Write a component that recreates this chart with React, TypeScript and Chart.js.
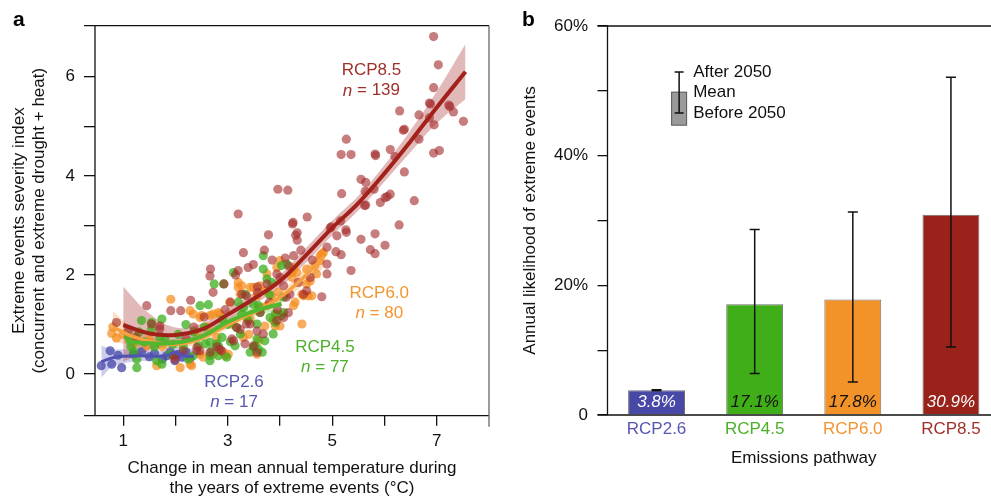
import React, { useEffect, useRef } from "react";
import { Chart, registerables } from "chart.js";

Chart.register(...registerables);

const FONT = '"Liberation Sans", Arial, Helvetica, sans-serif';

// ---------- Panel a: scatter data (temperature change °C, severity index) ----------
const rcp26Points: [number, number][] = [
  [0.58, 0.17], [0.75, 0.47], [0.78, 0.2], [0.9, 0.38], [0.97, 0.13], [1.2, 0.4], [1.35, 0.45],
  [1.5, 0.35], [1.6, 0.42], [1.75, 0.3], [1.83, 0.37], [1.9, 0.45], [1.99, 0.27], [2.05, 0.4],
  [2.12, 0.34], [2.2, 0.45], [2.28, 0.32],
];

const rcp45Points: [number, number][] = [
  [1.1, 0.75], [1.15, 0.55], [1.26, 0.13], [1.26, 0.3], [1.35, 1.08], [1.4, 0.65], [1.54, 1.04],
  [1.54, 0.91], [1.6, 0.55], [1.64, 0.27], [1.74, 0.2], [1.74, 1.11], [1.8, 0.7], [1.95, 0.6],
  [2.05, 0.8], [2.15, 0.55], [2.25, 0.3], [2.34, 0.37], [2.44, 0.57], [2.47, 1.38], [2.57, 0.61],
  [2.63, 1.4], [2.66, 0.37], [2.66, 0.27], [2.66, 0.64], [2.69, 0.47], [2.74, 1.82], [2.79, 0.61],
  [2.82, 0.57], [2.82, 0.37], [2.89, 0.74], [2.92, 1.82], [2.98, 0.34], [3.0, 1.0], [3.11, 2.05],
  [3.14, 0.57], [3.17, 0.94], [3.24, 0.81], [3.27, 1.2], [3.3, 1.34], [3.33, 1.61], [3.39, 1.08],
  [3.43, 0.44], [3.49, 0.54], [3.49, 1.41], [3.52, 0.57], [3.56, 1.01], [3.56, 0.71], [3.59, 0.5],
  [3.66, 0.44], [3.59, 1.38], [3.62, 1.24], [3.68, 2.39], [3.68, 2.12], [3.71, 0.67], [3.75, 1.92],
  [3.81, 1.14], [3.84, 1.85], [3.87, 0.81], [3.91, 1.04], [3.91, 1.21], [4.03, 1.18], [4.03, 2.19],
  [4.07, 1.55], [4.07, 1.24], [4.13, 2.22], [2.2, 1.0], [2.35, 0.85], [1.3, 0.85], [1.7, 0.75],
  [2.9, 1.1], [3.05, 0.65], [3.2, 1.45], [2.55, 0.95], [1.9, 0.4], [1.2, 0.45], [3.8, 1.6],
];

const rcp60Points: [number, number][] = [
  [0.78, 0.82], [0.87, 0.73], [0.8, 0.95], [1.2, 0.62], [1.45, 0.57], [1.5, 0.7], [1.64, 0.17],
  [1.91, 1.51], [2.09, 0.13], [2.28, 0.2], [2.31, 0.17], [2.28, 1.28], [2.34, 1.21], [2.47, 1.14],
  [2.5, 1.18], [2.47, 0.4], [2.53, 0.34], [2.66, 1.18], [2.72, 1.21], [2.72, 0.4], [2.79, 0.74],
  [2.82, 0.47], [2.82, 1.24], [2.85, 1.21], [2.92, 0.44], [2.95, 0.37], [3.01, 0.4], [3.04, 1.45],
  [3.2, 1.85], [3.2, 1.75], [3.24, 1.61], [3.27, 1.78], [3.3, 0.74], [3.4, 0.8], [3.36, 1.14],
  [3.43, 1.11], [3.43, 1.75], [3.49, 1.75], [3.56, 0.4], [3.59, 0.67], [3.56, 1.58], [3.62, 1.34],
  [3.62, 1.78], [3.71, 1.68], [3.71, 0.97], [3.75, 1.38], [3.75, 2.02], [3.84, 1.58], [3.87, 1.08],
  [3.91, 0.97], [3.94, 1.21], [3.94, 2.15], [3.97, 1.65], [4.0, 2.29], [4.0, 0.97], [4.23, 1.95],
  [4.23, 2.05], [4.26, 2.15], [4.26, 1.38], [4.29, 1.45], [4.32, 2.05], [4.42, 1.01], [4.42, 1.61],
  [4.45, 1.58], [4.51, 1.82], [4.51, 2.12], [4.54, 1.58], [4.58, 1.88], [4.61, 1.58], [4.67, 2.19],
  [4.7, 2.02], [4.77, 2.29], [4.77, 2.39], [4.8, 2.42], [4.83, 2.45], [2.4, 0.85], [2.6, 0.95],
  [1.0, 0.8], [1.75, 0.55], [3.1, 1.0],
];

const rcp85Points: [number, number][] = [
  [6.94, 6.81], [7.03, 6.24], [6.94, 5.78], [6.86, 5.47], [7.23, 5.43], [7.32, 5.29], [6.86, 5.17],
  [6.66, 5.23], [6.29, 5.31], [6.95, 5.03], [7.51, 5.1], [6.38, 4.94], [6.66, 4.74], [5.27, 4.74],
  [5.17, 4.43], [5.36, 4.43], [5.82, 4.44], [5.83, 4.41], [6.11, 4.53], [6.2, 4.39], [6.94, 4.46],
  [7.05, 4.51], [6.38, 4.08], [5.55, 3.93], [5.64, 3.87], [3.96, 3.73], [4.15, 3.71], [5.18, 3.64],
  [5.63, 3.69], [5.8, 3.73], [6.11, 3.63], [6.01, 3.56], [5.92, 3.46], [6.57, 3.5], [5.64, 3.41],
  [3.2, 3.23], [4.52, 3.17], [4.24, 3.03], [4.25, 3.06], [5.16, 3.09], [4.98, 2.97], [6.28, 3.01],
  [3.78, 2.81], [4.33, 2.85], [4.33, 2.7], [5.26, 2.91], [5.09, 2.79], [5.55, 2.72], [5.82, 2.83],
  [6.01, 2.6], [5.27, 2.86], [5.73, 2.51], [5.82, 2.43], [5.07, 2.47], [5.17, 2.41], [4.9, 2.56],
  [5.36, 2.09], [4.9, 2.02], [4.8, 1.56], [4.9, 2.22], [4.1, 2.34], [4.26, 2.39], [4.17, 2.18],
  [4.45, 1.61], [4.51, 1.68], [3.49, 2.21], [3.39, 2.15], [3.2, 2.09], [2.67, 2.12], [2.66, 1.98],
  [2.72, 1.65], [2.93, 1.82], [3.27, 1.61], [3.57, 1.76], [3.57, 1.65], [3.75, 1.82], [3.94, 2.02],
  [4.0, 1.95], [4.07, 1.78], [4.12, 1.55], [4.19, 1.61], [1.45, 1.38], [0.87, 1.04], [1.91, 1.28],
  [2.1, 1.28], [2.29, 1.49], [1.7, 0.97], [1.7, 0.91], [3.11, 0.67], [3.33, 0.61], [3.49, 0.57],
  [2.85, 0.5], [2.79, 0.55], [2.41, 0.54], [2.41, 0.47], [3.56, 0.87], [3.68, 0.81], [3.36, 1.01],
  [3.17, 0.94], [1.96, 0.37], [1.99, 0.3], [2.15, 0.47], [3.94, 1.08], [4.07, 1.14], [4.16, 1.24],
  [3.36, 1.58], [3.43, 1.01], [3.24, 0.9], [3.08, 0.71], [2.88, 0.47], [2.66, 0.44], [3.56, 0.44],
  [1.54, 1.01], [2.47, 0.47], [2.55, 1.15], [2.95, 1.3], [3.05, 1.45], [3.62, 1.25], [3.8, 1.45],
  [3.85, 2.3], [4.4, 2.5], [4.62, 2.3], [4.3, 2.8], [4.58, 1.95], [4.35, 1.85], [3.95, 1.3],
  [3.7, 2.5], [3.3, 2.45], [2.35, 0.95], [2.2, 0.72], [1.25, 0.75], [1.1, 0.88], [5.62, 3.4],
  [6.05, 3.58], [6.36, 4.92], [6.88, 5.45], [7.25, 5.4], [4.96, 2.95], [3.15, 2.0],
];

// ---------- Panel a: fitted curves and confidence bands ----------
const rcp85FitX = [1.0, 1.5, 2.0, 2.5, 3.0, 3.5, 4.0, 4.5, 5.0, 5.5, 6.0, 6.5, 7.0, 7.55];
const rcp85FitY = [0.99, 0.82, 0.79, 0.9, 1.2, 1.52, 1.88, 2.4, 2.95, 3.45, 4.05, 4.7, 5.38, 6.1];
const rcp85Upper = [1.76, 1.22, 0.94, 1.02, 1.32, 1.64, 2.01, 2.55, 3.1, 3.6, 4.22, 4.92, 5.7, 6.66];
const rcp85Lower = [0.25, 0.47, 0.64, 0.78, 1.08, 1.4, 1.75, 2.25, 2.8, 3.3, 3.88, 4.48, 5.06, 5.55];

const rcp60FitX = [0.8, 1.2, 1.6, 2.0, 2.4, 2.8, 3.2, 3.6, 4.0, 4.4, 4.85];
const rcp60FitY = [0.95, 0.75, 0.64, 0.6, 0.68, 0.88, 1.1, 1.3, 1.55, 1.9, 2.38];
const rcp60Upper = [1.27, 0.92, 0.74, 0.68, 0.76, 0.96, 1.18, 1.39, 1.66, 2.05, 2.6];
const rcp60Lower = [0.65, 0.58, 0.54, 0.52, 0.6, 0.8, 1.02, 1.21, 1.44, 1.75, 2.16];

const rcp45FitX = [1.05, 1.5, 2.0, 2.5, 3.0, 3.5, 4.03];
const rcp45FitY = [0.66, 0.62, 0.63, 0.76, 1.05, 1.27, 1.42];
const rcp45Upper = [0.8, 0.72, 0.71, 0.84, 1.13, 1.36, 1.56];
const rcp45Lower = [0.52, 0.52, 0.55, 0.68, 0.97, 1.18, 1.28];

const rcp26FitX = [0.58, 0.8, 1.0, 1.3, 1.6, 1.85, 2.0, 2.15, 2.35];
const rcp26FitY = [0.25, 0.33, 0.36, 0.37, 0.36, 0.38, 0.44, 0.37, 0.36];
const rcp26Upper = [0.57, 0.5, 0.5, 0.48, 0.46, 0.48, 0.55, 0.5, 0.52];
const rcp26Lower = [-0.07, 0.16, 0.22, 0.26, 0.26, 0.28, 0.32, 0.24, 0.2];

const scenarioCounts = [17, 77, 80, 139];
const tempTicks = [1, 2, 3, 4, 5, 6, 7];
const severityTicks = [0, 1, 2, 3, 4, 5, 6];

// ---------- Panel b data ----------
const scenarios = ["RCP2.6", "RCP4.5", "RCP6.0", "RCP8.5"];
const likelihoodMean = [3.8, 17.1, 17.8, 30.9];
const likelihoodBefore2050 = [3.75, 6.4, 5.1, 10.5];
const likelihoodAfter2050 = [3.9, 28.6, 31.3, 52.1];
const likelihoodTicks = [0, 10, 20, 30, 40, 50, 60];

// ---------- styles ----------
const barColors = ["#4848a7", "#3fae18", "#f4922a", "#99221a"];
const labelColors = ["#5656b3", "#4cb02a", "#f5952f", "#a0302a"];
const barTextColors = ["#ffffff", "#111111", "#111111", "#ffffff"];

const pts = (xs: number[], ys: number[]) => xs.map((x, i) => ({ x, y: ys[i] }));
const pairs = (p: [number, number][]) => p.map(([x, y]) => ({ x, y }));

const tickFont = { family: FONT, size: 17, lineHeight: 1.2 };
const titleFont = { family: FONT, size: 17, lineHeight: 1.18 };

// annotation anchors (data coordinates) for panel a
const annotations = [
  { name: "RCP2.6", n: scenarioCounts[0], x: 3.12, y: -0.17, color: "#5656b3" },
  { name: "RCP4.5", n: scenarioCounts[1], x: 4.86, y: 0.55, color: "#4cb02a" },
  { name: "RCP6.0", n: scenarioCounts[2], x: 5.9, y: 1.63, color: "#f5952f" },
  { name: "RCP8.5", n: scenarioCounts[3], x: 5.75, y: 6.12, color: "#a0302a" },
];

const panelAPlugin = {
  id: "panelA",
  afterDraw(chart: any) {
    const { ctx, chartArea, scales } = chart;
    const { left, right, top, bottom } = chartArea;
    const xs = scales.x;
    const ys = scales.y;
    ctx.save();
    ctx.strokeStyle = "#111";
    ctx.lineWidth = 1.3;
    ctx.beginPath();
    ctx.moveTo(left - 11, top);
    ctx.lineTo(right, top);
    ctx.moveTo(left - 11, bottom);
    ctx.lineTo(right, bottom);
    ctx.moveTo(left, top);
    ctx.lineTo(left, bottom);
    ctx.stroke();
    ctx.strokeStyle = "#666";
    ctx.beginPath();
    ctx.moveTo(right, top);
    ctx.lineTo(right, bottom + 11);
    ctx.stroke();

    ctx.textBaseline = "middle";
    for (const a of annotations) {
      const cx = xs.getPixelForValue(a.x);
      const cy = ys.getPixelForValue(a.y);
      ctx.fillStyle = a.color;
      ctx.font = `17px ${FONT}`;
      ctx.textAlign = "center";
      ctx.fillText(a.name, cx, cy);
      const rest = ` = ${a.n}`;
      ctx.font = `italic 17px ${FONT}`;
      const w1 = ctx.measureText("n").width;
      ctx.font = `17px ${FONT}`;
      const w2 = ctx.measureText(rest).width;
      const sx = cx - (w1 + w2) / 2;
      ctx.textAlign = "left";
      ctx.font = `italic 17px ${FONT}`;
      ctx.fillText("n", sx, cy + 20);
      ctx.font = `17px ${FONT}`;
      ctx.fillText(rest, sx + w1, cy + 20);
    }

    ctx.fillStyle = "#000";
    ctx.font = `bold 21px ${FONT}`;
    ctx.textAlign = "left";
    ctx.textBaseline = "alphabetic";
    ctx.fillText("a", 13, 26);
    ctx.restore();
  },
};

// legend glyph anchor (category index / % units) for panel b
const legendGlyph = { x: 0.23, base: 44.7, mean: 49.8, before: 46.6, after: 52.9 };

const panelBPlugin = {
  id: "panelB",
  afterDatasetsDraw(chart: any) {
    const { ctx, scales } = chart;
    const xs = scales.x;
    const ys = scales.y;
    ctx.save();
    ctx.strokeStyle = "#111";
    ctx.lineWidth = 1.5;
    for (let i = 0; i < scenarios.length; i++) {
      const px = xs.getPixelForValue(i);
      const lo = ys.getPixelForValue(likelihoodBefore2050[i]);
      const hi = ys.getPixelForValue(likelihoodAfter2050[i]);
      ctx.beginPath();
      ctx.moveTo(px, lo);
      ctx.lineTo(px, hi);
      ctx.moveTo(px - 5, lo);
      ctx.lineTo(px + 5, lo);
      ctx.moveTo(px - 5, hi);
      ctx.lineTo(px + 5, hi);
      ctx.stroke();
    }
    ctx.font = `italic 17px ${FONT}`;
    ctx.textAlign = "center";
    ctx.textBaseline = "middle";
    const y0 = ys.getPixelForValue(0);
    for (let i = 0; i < scenarios.length; i++) {
      ctx.fillStyle = barTextColors[i];
      ctx.fillText(`${likelihoodMean[i].toFixed(1)}%`, xs.getPixelForValue(i), y0 - 13);
    }
    ctx.restore();
  },
  afterDraw(chart: any) {
    const { ctx, chartArea, scales } = chart;
    const { left, right, top, bottom } = chartArea;
    const xs = scales.x;
    const ys = scales.y;
    ctx.save();
    ctx.strokeStyle = "#111";
    ctx.lineWidth = 1.3;
    ctx.beginPath();
    ctx.moveTo(left - 10, top);
    ctx.lineTo(right, top);
    ctx.moveTo(left - 10, bottom);
    ctx.lineTo(right, bottom);
    ctx.moveTo(left, top);
    ctx.lineTo(left, bottom);
    ctx.stroke();

    // legend glyph
    const gx = xs.getPixelForValue(legendGlyph.x);
    const gBase = ys.getPixelForValue(legendGlyph.base);
    const gMean = ys.getPixelForValue(legendGlyph.mean);
    const gLo = ys.getPixelForValue(legendGlyph.before);
    const gHi = ys.getPixelForValue(legendGlyph.after);
    ctx.fillStyle = "#9a9a9a";
    ctx.fillRect(gx - 7.5, gMean, 15, gBase - gMean);
    ctx.strokeStyle = "#555";
    ctx.lineWidth = 1;
    ctx.strokeRect(gx - 7.5, gMean, 15, gBase - gMean);
    ctx.strokeStyle = "#111";
    ctx.lineWidth = 1.5;
    ctx.beginPath();
    ctx.moveTo(gx, gLo);
    ctx.lineTo(gx, gHi);
    ctx.moveTo(gx - 4.5, gLo);
    ctx.lineTo(gx + 4.5, gLo);
    ctx.moveTo(gx - 4.5, gHi);
    ctx.lineTo(gx + 4.5, gHi);
    ctx.stroke();
    ctx.fillStyle = "#111";
    ctx.font = `17px ${FONT}`;
    ctx.textAlign = "left";
    ctx.textBaseline = "middle";
    ctx.fillText("After 2050", gx + 14, gHi);
    ctx.fillText("Mean", gx + 14, gMean);
    ctx.fillText("Before 2050", gx + 14, gLo);

    ctx.fillStyle = "#000";
    ctx.font = `bold 21px ${FONT}`;
    ctx.textBaseline = "alphabetic";
    ctx.fillText("b", 27, 26);
    ctx.restore();
  },
};

function fitLine(xs: number[], ys: number[], color: string, width: number) {
  return {
    type: "line" as const,
    data: pts(xs, ys),
    borderColor: color,
    borderWidth: width,
    pointRadius: 0,
    tension: 0.4,
    fill: false,
  };
}

function bandPair(xs: number[], up: number[], lo: number[], color: string) {
  return [
    {
      type: "line" as const,
      data: pts(xs, up),
      borderColor: "rgba(0,0,0,0)",
      borderWidth: 0,
      pointRadius: 0,
      tension: 0.4,
      fill: "+1",
      backgroundColor: color,
    },
    {
      type: "line" as const,
      data: pts(xs, lo),
      borderColor: "rgba(0,0,0,0)",
      borderWidth: 0,
      pointRadius: 0,
      tension: 0.4,
      fill: false,
    },
  ];
}

function scatterSet(p: [number, number][], color: string) {
  return {
    type: "scatter" as const,
    data: pairs(p),
    backgroundColor: color,
    borderWidth: 0,
    pointRadius: 4.6,
  };
}

export default function App() {
  const refA = useRef<HTMLCanvasElement>(null);
  const refB = useRef<HTMLCanvasElement>(null);

  useEffect(() => {
    const chartA = new Chart(refA.current as HTMLCanvasElement, {
      type: "scatter",
      data: {
        datasets: [
          fitLine(rcp85FitX, rcp85FitY, "#a2221b", 4),
          fitLine(rcp45FitX, rcp45FitY, "#52b830", 4),
          fitLine(rcp60FitX, rcp60FitY, "#f7a040", 3.5),
          fitLine(rcp26FitX, rcp26FitY, "#5353b3", 3),
          scatterSet(rcp85Points, "rgba(165,45,45,0.62)"),
          scatterSet(rcp45Points, "rgba(60,175,30,0.75)"),
          scatterSet(rcp60Points, "rgba(245,140,30,0.72)"),
          scatterSet(rcp26Points, "rgba(75,75,170,0.78)"),
          ...bandPair(rcp85FitX, rcp85Upper, rcp85Lower, "rgba(180,70,70,0.38)"),
          ...bandPair(rcp60FitX, rcp60Upper, rcp60Lower, "rgba(245,150,50,0.3)"),
          ...bandPair(rcp45FitX, rcp45Upper, rcp45Lower, "rgba(90,190,50,0.3)"),
          ...bandPair(rcp26FitX, rcp26Upper, rcp26Lower, "rgba(90,90,190,0.3)"),
        ] as any,
      },
      options: {
        responsive: false,
        animation: false,
        events: [],
        layout: { padding: { top: 25.7, right: 6, left: 0, bottom: 0 } },
        plugins: { legend: { display: false }, tooltip: { enabled: false } },
        scales: {
          x: {
            type: "linear",
            min: 0.46,
            max: 8.0,
            afterBuildTicks: (s: any) => {
              s.ticks = tempTicks.map((v) => ({ value: v }));
            },
            afterFit: (s: any) => {
              s.height = 84.3;
            },
            grid: { drawOnChartArea: false, drawTicks: true, tickLength: 10, color: "#111", lineWidth: 1.3 },
            border: { display: false },
            ticks: {
              font: tickFont,
              color: "#111",
              padding: 5,
              autoSkip: false,
              maxRotation: 0,
              callback: (v: any) => (Number(v) % 2 === 1 ? String(v) : ""),
            },
            title: {
              display: true,
              text: ["Change in mean annual temperature during", "the years of extreme events (°C)"],
              font: titleFont,
              color: "#111",
              padding: { top: 0, bottom: 2 },
            },
          },
          y: {
            type: "linear",
            min: -0.84,
            max: 7.03,
            afterBuildTicks: (s: any) => {
              s.ticks = severityTicks.map((v) => ({ value: v }));
            },
            afterFit: (s: any) => {
              s.width = 95;
            },
            grid: { drawOnChartArea: false, drawTicks: true, tickLength: 11, color: "#111", lineWidth: 1.3 },
            border: { display: false },
            ticks: {
              font: tickFont,
              color: "#111",
              padding: 9,
              autoSkip: false,
              callback: (v: any) => (Number(v) % 2 === 0 ? String(v) : ""),
            },
            title: {
              display: true,
              text: ["Extreme events severity index", "(concurrent and extreme drought + heat)"],
              font: titleFont,
              color: "#111",
              padding: { top: 9, bottom: 0 },
            },
          },
        },
      },
      plugins: [panelAPlugin],
    } as any);

    const chartB = new Chart(refB.current as HTMLCanvasElement, {
      type: "bar",
      data: {
        labels: scenarios,
        datasets: [
          {
            data: likelihoodMean,
            backgroundColor: barColors,
            borderColor: "#707070",
            borderWidth: 1,
            categoryPercentage: 1,
            barPercentage: 0.58,
          },
        ],
      },
      options: {
        responsive: false,
        animation: false,
        events: [],
        layout: { padding: { top: 26, right: 0, left: 0, bottom: 0 } },
        plugins: { legend: { display: false }, tooltip: { enabled: false } },
        scales: {
          x: {
            afterFit: (s: any) => {
              s.height = 85;
            },
            grid: { display: false, drawTicks: false },
            border: { display: false },
            ticks: {
              font: tickFont,
              color: (c: any) => labelColors[c.index],
              padding: 4,
              autoSkip: false,
              maxRotation: 0,
            },
            title: {
              display: true,
              text: "Emissions pathway",
              font: titleFont,
              color: "#111",
              padding: { top: 0, bottom: 32 },
            },
          },
          y: {
            type: "linear",
            min: 0,
            max: 60,
            afterBuildTicks: (s: any) => {
              s.ticks = likelihoodTicks.map((v) => ({ value: v }));
            },
            afterFit: (s: any) => {
              s.width = 112.5;
            },
            grid: { drawOnChartArea: false, drawTicks: true, tickLength: 10, color: "#111", lineWidth: 1.3 },
            border: { display: false },
            ticks: {
              font: tickFont,
              color: "#111",
              padding: 9.5,
              autoSkip: false,
              callback: (v: any) => {
                const n = Number(v);
                if (n === 0) return "0";
                return n % 20 === 0 ? `${n}%` : "";
              },
            },
            title: {
              display: true,
              text: "Annual likelihood of extreme events",
              font: titleFont,
              color: "#111",
              padding: { top: 25, bottom: 0 },
            },
          },
        },
      },
      plugins: [panelBPlugin],
    } as any);

    return () => {
      chartA.destroy();
      chartB.destroy();
    };
  }, []);

  return (
    <div
      style={{
        position: "fixed",
        left: 0,
        top: 0,
        width: 991,
        height: 500,
        overflow: "hidden",
        background: "#fff",
      }}
    >
      <canvas
        ref={refA}
        width={495}
        height={500}
        style={{ position: "absolute", left: 0, top: 0, width: 495, height: 500 }}
      />
      <canvas
        ref={refB}
        width={505}
        height={500}
        style={{ position: "absolute", left: 495, top: 0, width: 505, height: 500 }}
      />
    </div>
  );
}
